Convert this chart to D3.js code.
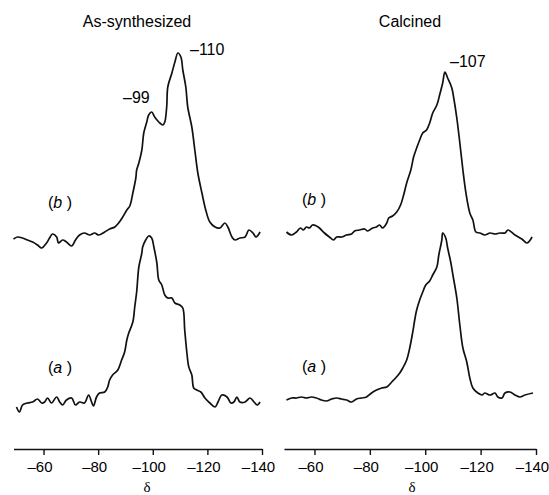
<!DOCTYPE html>
<html>
<head>
<meta charset="utf-8">
<script src="https://cdn.jsdelivr.net/npm/d3@7/dist/d3.min.js"></script>
<style>
  html, body { margin: 0; padding: 0; background: #fff; }
  svg { display: block; }
  text { font-family: "Liberation Sans", Arial, sans-serif; fill: #000; }
</style>
</head>
<body>
<script>
// ---------- DATA (δ in ppm, intensity in arbitrary units above each trace's baseline) ----------
const panelTitles = ["As-synthesized", "Calcined"];
const tickValues = [-60, -80, -100, -120, -140];
const traceLabels = ["a", "b"];

// As-synthesized, trace (a)
const asSynA = [
  [-50.1,-5],[-51.2,-10],[-52.3,-3],[-54.1,-1],[-56.0,0],[-57.8,3],[-59.3,-1],[-60.4,0],[-61.5,4],
  [-62.9,-1],[-64.8,5],[-65.9,0],[-67.0,-3],[-68.4,2],[-70.3,4],[-71.7,-3],[-73.2,0],[-75.0,-1],
  [-76.5,7],[-77.6,0],[-78.3,-4],[-79.4,5],[-80.5,9],[-82.4,10],[-83.5,15],[-84.2,22],[-85.3,27],
  [-87.2,32],[-88.6,42],[-89.7,50],[-90.5,62],[-91.2,69],[-92.7,80],[-93.4,95],[-94.1,110],
  [-94.9,135],[-96.0,149],[-96.3,155],[-97.4,162],[-98.5,166],[-99.6,164],[-100.4,155],
  [-101.5,139],[-102.2,122],[-103.3,117],[-104.4,107],[-105.5,104],[-107.0,104],[-108.1,99],
  [-109.9,97],[-111.0,94],[-111.7,72],[-112.5,49],[-113.2,35],[-114.3,27],[-115.0,14],[-116.1,12],
  [-117.6,10],[-119.1,4],[-120.9,-1],[-122.8,-5],[-123.9,0],[-125.3,7],[-127.2,5],[-128.6,-1],
  [-129.7,0],[-130.8,5],[-131.9,0],[-133.8,0],[-135.6,4],[-137.1,0],[-138.2,-3],[-139.3,0]
];
// As-synthesized, trace (b)
const asSynB = [
  [-49.0,-2],[-50.5,0],[-52.3,-1],[-54.1,-3],[-56.0,-5],[-57.8,-8],[-59.3,-11],[-61.1,-6],
  [-62.2,-1],[-63.3,3],[-64.8,0],[-65.5,-6],[-67.0,-3],[-68.4,-5],[-70.3,-9],[-71.7,-3],[-73.2,2],
  [-75.0,4],[-76.9,2],[-78.7,4],[-80.2,2],[-82.4,5],[-84.2,8],[-86.1,10],[-87.5,14],[-89.0,20],
  [-90.5,27],[-91.6,31],[-92.7,44],[-93.8,59],[-94.1,67],[-94.9,74],[-96.0,87],[-96.7,104],
  [-97.8,115],[-98.5,122],[-99.6,125],[-100.7,120],[-102.2,115],[-103.7,112],[-104.4,115],
  [-105.1,130],[-105.5,150],[-107.0,164],[-108.1,175],[-109.2,184],[-110.3,180],[-111.0,167],
  [-112.1,150],[-112.8,130],[-114.3,110],[-115.4,87],[-116.5,64],[-118.0,44],[-119.4,27],
  [-120.9,15],[-122.8,10],[-124.6,9],[-126.4,14],[-127.5,10],[-129.0,0],[-130.1,-3],[-131.9,-1],
  [-133.8,0],[-135.2,7],[-136.7,4],[-137.8,0],[-139.3,5]
];
// Calcined, trace (a)
const calcA = [
  [-49.9,-2],[-51.7,0],[-53.5,0],[-55.3,1],[-57.1,0],[-58.9,1],[-60.7,0],[-62.5,-2],[-64.3,-3],
  [-66.2,-1],[-68.0,0],[-69.8,-1],[-71.6,-2],[-73.4,-4],[-75.2,-1],[-77.0,0],[-78.8,1],[-80.6,5],
  [-82.4,8],[-84.3,10],[-86.1,11],[-87.9,16],[-89.3,20],[-90.8,25],[-91.9,30],[-93.3,38],
  [-94.4,50],[-95.5,66],[-96.2,78],[-96.9,88],[-98.0,98],[-99.1,106],[-100.2,113],[-101.6,117],
  [-102.7,123],[-104.2,131],[-104.9,143],[-106.0,158],[-106.3,165],[-107.4,160],[-108.1,150],
  [-109.2,136],[-110.0,123],[-111.4,100],[-112.5,73],[-113.6,50],[-115.0,36],[-116.1,20],
  [-117.2,10],[-119.0,5],[-120.5,3],[-121.5,5],[-123.4,3],[-125.2,5],[-126.2,1],[-127.7,0],
  [-128.8,5],[-130.6,6],[-132.4,3],[-134.2,1],[-136.0,3],[-138.9,5]
];
// Calcined, trace (b)
const calcB = [
  [-49.9,1],[-51.7,-2],[-53.5,1],[-54.9,5],[-56.0,3],[-57.1,6],[-58.2,5],[-59.3,8],[-60.7,7],
  [-61.8,5],[-63.6,0],[-65.4,-4],[-66.9,-7],[-68.0,-4],[-69.8,-4],[-71.6,-2],[-73.4,-1],[-74.5,2],
  [-76.3,3],[-78.1,4],[-79.2,2],[-81.0,5],[-82.4,6],[-83.5,8],[-84.6,5],[-86.1,10],[-86.8,15],
  [-88.2,17],[-89.7,21],[-91.1,28],[-92.2,38],[-93.3,50],[-94.8,63],[-95.8,76],[-96.9,85],
  [-98.0,93],[-99.1,100],[-100.5,103],[-101.6,110],[-102.7,120],[-104.2,128],[-105.2,138],
  [-106.3,150],[-107.1,161],[-108.1,155],[-109.6,145],[-110.3,135],[-111.4,115],[-112.5,90],
  [-113.6,63],[-114.7,40],[-116.1,20],[-117.2,13],[-118.3,1],[-119.7,0],[-121.5,-2],[-123.4,0],
  [-125.2,-1],[-127.0,0],[-128.8,0],[-129.9,3],[-132.4,-2],[-134.9,-6],[-136.7,-10],[-138.6,-4]
];

// Peak annotations
const asSynPeaks = ["–99", "–110"];
const calcPeaks = ["–107"];

// ---------- DRAWING ----------
const W = 549, H = 495;
const svg = d3.select("body").append("svg").attr("width", W).attr("height", H);

const y = d3.scaleLinear().domain([0, 400]).range([440, 40]);

const panels = [
  { title: panelTitles[0], x: d3.scaleLinear().domain([-49, -140]).range([13.5, 262]),
    traces: [asSynA, asSynB], offsets: [38, 203], titleX: 137,
    labelPos: [[48, 373], [48, 208]], deltaX: 147,
    peaks: [ {t: asSynPeaks[0], px: 123, py: 103}, {t: asSynPeaks[1], px: 190, py: 55} ] },
  { title: panelTitles[1], x: d3.scaleLinear().domain([-49, -140]).range([284, 536]),
    traces: [calcA, calcB], offsets: [42, 207], titleX: 410,
    labelPos: [[302, 372], [302, 205]], deltaX: 412,
    peaks: [ {t: calcPeaks[0], px: 450, py: 67} ] }
];

panels.forEach(p => {
  const g = svg.append("g");
  g.append("text").attr("x", p.titleX).attr("y", 27).attr("text-anchor", "middle")
    .style("font-size", "16px").text(p.title);

  p.traces.forEach((tr, i) => {
    const line = d3.line()
      .x(d => p.x(d[0]))
      .y(d => y(d[1] + p.offsets[i]))
      .curve(d3.curveCatmullRom.alpha(0.5));
    g.append("path").datum(tr).attr("d", line)
      .attr("fill", "none").attr("stroke", "#111").attr("stroke-width", 1.7)
      .attr("stroke-linejoin", "round");

    const t = g.append("text").attr("x", p.labelPos[i][0]).attr("y", p.labelPos[i][1])
      .style("font-size", "16px");
    t.append("tspan").text("(");
    t.append("tspan").style("font-style", "italic").text(traceLabels[i]);
    t.append("tspan").text(" )");
  });

  p.peaks.forEach(pk => {
    g.append("text").attr("x", pk.px).attr("y", pk.py).style("font-size", "16px").text(pk.t);
  });

  const axis = d3.axisBottom(p.x).tickValues(tickValues).tickSize(6).tickSizeOuter(0)
    .tickPadding(6).tickFormat(d => "–" + Math.abs(d));
  const ag = g.append("g").attr("transform", "translate(0,449)").call(axis);
  ag.select(".domain").attr("stroke", "#111").attr("stroke-width", 1.6);
  ag.selectAll(".tick line").attr("stroke", "#111").attr("stroke-width", 1.4);
  ag.selectAll(".tick text").style("font-size", "15px")
    .style("font-family", "'Liberation Sans', Arial, sans-serif").attr("fill", "#000")
    .attr("dx", "-4");

  g.append("text").attr("x", p.deltaX).attr("y", 492).attr("text-anchor", "middle")
    .style("font-size", "15px").style("font-family", "'Liberation Serif', 'Times New Roman', serif")
    .text("δ");
});
</script>
</body>
</html>
